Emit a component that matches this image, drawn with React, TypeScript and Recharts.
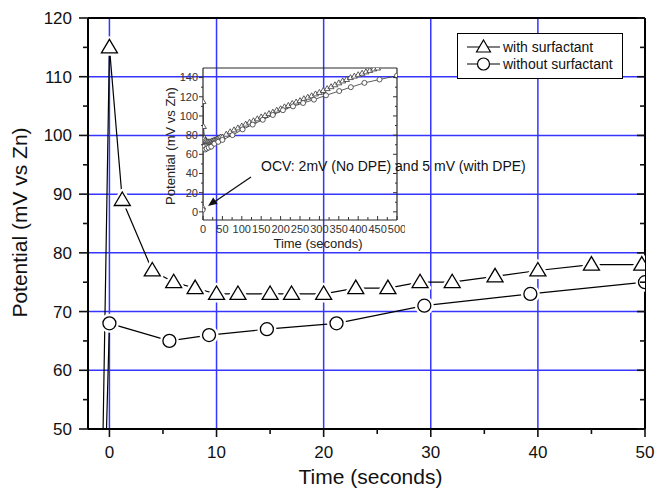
import React from 'react';
import { LineChart, Line, XAxis, YAxis, CartesianGrid, Legend, Label } from 'recharts';

const FONT = '"Liberation Sans", Arial, Helvetica, sans-serif';

// ---- main chart: first 50 s ----
const withTime = [-1, 0, 1.2, 4, 6, 8, 10, 12, 15, 17, 20, 23, 26, 29, 32, 36, 40, 45, 49.7];
const withValue = [5, 115, 89, 77, 75, 74, 73, 73, 73, 73, 73, 74, 74, 75, 75, 76, 77, 78, 78];
const withoutTime = [-1, 0, 5.6, 9.3, 14.7, 21.2, 29.4, 39.3, 50];
const withoutValue = [2, 68, 65, 66, 67, 68, 71, 73, 75];

// ---- inset continuation: 50 - 500 s ----
const withTimeLate = [60, 70, 80, 90, 100, 110, 120, 130, 140, 150, 160, 170, 180, 190, 200, 210, 220, 230, 240, 250, 260, 270, 280, 290, 300, 310, 320, 330, 340, 350, 360, 370, 380, 390, 400, 410, 420, 430, 440, 450];
const withValueLate = [81, 83.5, 85.5, 87.5, 89.5, 91.5, 93.5, 95, 97, 99, 100.5, 102.5, 104, 106, 107.5, 109.5, 111, 113, 114.5, 116, 118, 119.5, 121, 123, 124.5, 126.5, 128.5, 130.5, 132.5, 134.5, 136.5, 138, 140, 141.5, 143, 144.5, 146, 147.5, 149, 150];
const withoutTimeLate = [76, 102, 128, 154, 180, 206, 232, 258, 286, 317, 351, 381, 416, 455, 500];
const withoutValueLate = [80, 86, 91, 96, 101, 106, 110, 113.5, 117, 121.5, 126, 130, 134.5, 138, 142];

// ---- ticks / grid ----
const mainXTicks = [0, 5, 10, 15, 20, 25, 30, 35, 40, 45, 50];
const mainYTicks = [50, 55, 60, 65, 70, 75, 80, 85, 90, 95, 100, 105, 110, 115, 120];
const mainGridX = [0, 10, 20, 30, 40];
const mainGridY = [60, 70, 80, 90, 100, 110];
const insetXTicks = [0, 25, 50, 75, 100, 125, 150, 175, 200, 225, 250, 275, 300, 325, 350, 375, 400, 425, 450, 475, 500];
const insetYTicks = [0, 10, 20, 30, 40, 50, 60, 70, 80, 90, 100, 110, 120, 130, 140];

const seriesNames = ['with surfactant', 'without surfactant'];
const xTitle = 'Time (seconds)';
const yTitle = 'Potential (mV vs Zn)';
const annotationText = 'OCV: 2mV (No DPE) and 5 mV (with DPE)';

const toRows = (ts: number[], vs: number[]) => ts.map((t, i) => ({ t, v: vs[i] }));
const mainWith = toRows(withTime, withValue);
const mainWithout = toRows(withoutTime, withoutValue);
const insetWith = toRows(withTime.concat(withTimeLate), withValue.concat(withValueLate));
const insetWithout = toRows(withoutTime.concat(withoutTimeLate), withoutValue.concat(withoutValueLate));

type Side = 'bottom' | 'top' | 'left' | 'right';
interface TickOpts {
  side: Side; every: number; majorLen: number; minorLen: number; inward: boolean;
  showLabel: boolean; fontSize: number; gap: number; color: string; width: number;
}

const makeTick = (o: TickOpts) => (props: any) => {
  const { x, y, payload } = props;
  const v = Number(payload?.value);
  const r = v / o.every;
  const major = Math.abs(r - Math.round(r)) < 1e-6;
  const len = major ? o.majorLen : o.minorLen;
  const s = o.inward ? -1 : 1;
  let x2 = x;
  let y2 = y;
  if (o.side === 'bottom') y2 = y + s * len;
  if (o.side === 'top') y2 = y - s * len;
  if (o.side === 'left') x2 = x - s * len;
  if (o.side === 'right') x2 = x + s * len;
  let label: any = null;
  if (o.showLabel && major) {
    if (o.side === 'bottom') {
      label = (
        <text x={x} y={y + o.gap} textAnchor="middle" fontSize={o.fontSize} fontFamily={FONT} fill={o.color}>{v}</text>
      );
    } else if (o.side === 'left') {
      label = (
        <text x={x - o.gap} y={y + o.fontSize * 0.35} textAnchor="end" fontSize={o.fontSize} fontFamily={FONT} fill={o.color}>{v}</text>
      );
    }
  }
  return (
    <g>
      <line x1={x} y1={y} x2={x2} y2={y2} stroke={o.color} strokeWidth={o.width} />
      {label}
    </g>
  );
};

const mainBottomTick = makeTick({ side: 'bottom', every: 10, majorLen: 8, minorLen: 5, inward: false, showLabel: true, fontSize: 17, gap: 29, color: '#111', width: 1.6 });
const mainTopTick = makeTick({ side: 'top', every: 10, majorLen: 8, minorLen: 5, inward: true, showLabel: false, fontSize: 17, gap: 0, color: '#111', width: 1.6 });
const mainLeftTick = makeTick({ side: 'left', every: 10, majorLen: 9, minorLen: 5, inward: false, showLabel: true, fontSize: 17, gap: 16, color: '#111', width: 1.6 });
const mainRightTick = makeTick({ side: 'right', every: 10, majorLen: 8, minorLen: 5, inward: true, showLabel: false, fontSize: 17, gap: 0, color: '#111', width: 1.6 });

const insetBottomTick = makeTick({ side: 'bottom', every: 50, majorLen: 4, minorLen: 3, inward: true, showLabel: true, fontSize: 11, gap: 13, color: '#333', width: 1 });
const insetTopTick = makeTick({ side: 'top', every: 50, majorLen: 4, minorLen: 3, inward: true, showLabel: false, fontSize: 11, gap: 0, color: '#333', width: 1 });
const insetLeftTick = makeTick({ side: 'left', every: 20, majorLen: 4, minorLen: 2, inward: false, showLabel: true, fontSize: 11, gap: 5, color: '#333', width: 1 });
const insetRightTick = makeTick({ side: 'right', every: 20, majorLen: 4, minorLen: 2, inward: true, showLabel: false, fontSize: 11, gap: 0, color: '#333', width: 1 });

const triPath = (cx: number, cy: number, h: number, up: number, down: number) =>
  `M${cx},${cy - up} L${cx + h},${cy + down} L${cx - h},${cy + down} Z`;

const makeTriDot = (h: number, up: number, down: number, color: string, sw: number, halo: number) => (props: any) => {
  const { cx, cy, index } = props;
  if (cx == null || cy == null) return <g key={`t${index}`} />;
  const d = triPath(cx, cy, h, up, down);
  return (
    <g key={`t${index}`}>
      {halo > 0 && <path d={d} fill="#fff" stroke="#fff" strokeWidth={halo} strokeLinejoin="round" />}
      <path d={d} fill="#fff" stroke={color} strokeWidth={sw} />
    </g>
  );
};
const makeCircDot = (r: number, color: string, sw: number, halo: number) => (props: any) => {
  const { cx, cy, index } = props;
  if (cx == null || cy == null) return <g key={`c${index}`} />;
  return (
    <g key={`c${index}`}>
      {halo > 0 && <circle cx={cx} cy={cy} r={r} fill="#fff" stroke="#fff" strokeWidth={halo} />}
      <circle cx={cx} cy={cy} r={r} fill="#fff" stroke={color} strokeWidth={sw} />
    </g>
  );
};

const mainTri = makeTriDot(8, 8, 5.5, '#000', 1.3, 6);
const mainCirc = makeCircDot(6.5, '#000', 1.3, 6);
const insetTri = makeTriDot(3, 3, 2, '#333', 0.8, 0);
const insetCirc = makeCircDot(2.5, '#333', 0.8, 0);

const renderLegend = () => (
  <svg width={166} height={46} style={{ display: 'block' }}>
    <rect x={0.5} y={0.5} width={165} height={45} fill="#fff" stroke="#000" strokeWidth={1} />
    <line x1={10} x2={43} y1={14} y2={14} stroke="#000" strokeWidth={1.2} />
    <path d={triPath(26.5, 14, 7, 7, 5)} fill="#fff" stroke="#000" strokeWidth={1.2} />
    <text x={46} y={19} fontSize={14} fontFamily={FONT} fill="#111">{seriesNames[0]}</text>
    <line x1={10} x2={43} y1={31} y2={31} stroke="#000" strokeWidth={1.2} />
    <circle cx={26.5} cy={31} r={6} fill="#fff" stroke="#000" strokeWidth={1.2} />
    <text x={46} y={36} fontSize={14} fontFamily={FONT} fill="#111">{seriesNames[1]}</text>
  </svg>
);

const frame = { stroke: '#000', strokeWidth: 2 };
const insetFrame = { stroke: '#2a2a2a', strokeWidth: 1.2 };

export default function App() {
  return (
    <div style={{ position: 'absolute', left: 0, top: 0, width: 658, height: 488, background: '#fff', fontFamily: FONT }}>
      <div style={{ position: 'absolute', left: 0, top: 0 }}>
        <LineChart width={658} height={488} margin={{ top: 17, right: 12, bottom: 0, left: 0 }}>
          <CartesianGrid stroke="#3535ff" strokeWidth={1.5} verticalValues={mainGridX} horizontalValues={mainGridY} />
          <XAxis type="number" dataKey="t" domain={[-2, 50]} allowDataOverflow ticks={mainXTicks} interval={0}
            height={59} tickSize={0} tickMargin={0} tickLine={false} axisLine={frame} tick={mainBottomTick}>
            <Label content={(p: any) => {
              const vb = p.viewBox || { x: 88, y: 429, width: 557 };
              return (
                <text x={vb.x + vb.width / 2 + 4} y={vb.y + 55} textAnchor="middle" fontSize={21} fontFamily={FONT} fill="#111">{xTitle}</text>
              );
            }} />
          </XAxis>
          <XAxis xAxisId="top" orientation="top" type="number" domain={[-2, 50]} allowDataOverflow ticks={mainXTicks} interval={0}
            height={1} tickSize={0} tickMargin={0} tickLine={false} axisLine={frame} tick={mainTopTick} />
          <YAxis type="number" domain={[50, 120]} allowDataOverflow ticks={mainYTicks} interval={0}
            width={88} tickSize={0} tickMargin={0} tickLine={false} axisLine={frame} tick={mainLeftTick}>
            <Label content={(p: any) => {
              const vb = p.viewBox || { x: 0, y: 18, width: 88, height: 411 };
              const cx = vb.x + 27;
              const cy = vb.y + vb.height / 2 - 1;
              return (
                <text x={cx} y={cy} transform={`rotate(-90, ${cx}, ${cy})`} textAnchor="middle" fontSize={21} fontFamily={FONT} fill="#111">{yTitle}</text>
              );
            }} />
          </YAxis>
          <YAxis yAxisId="right" orientation="right" type="number" domain={[50, 120]} allowDataOverflow ticks={mainYTicks} interval={0}
            width={1} tickSize={0} tickMargin={0} tickLine={false} axisLine={frame} tick={mainRightTick} />
          <Line data={mainWith} dataKey="v" name={seriesNames[0]} type="linear" stroke="#000" strokeWidth={1.2}
            dot={mainTri} activeDot={false} isAnimationActive={false} />
          <Line data={mainWithout} dataKey="v" name={seriesNames[1]} type="linear" stroke="#000" strokeWidth={1.2}
            dot={mainCirc} activeDot={false} isAnimationActive={false} />
          <Legend layout="vertical" align="center" verticalAlign="middle" content={renderLegend}
            wrapperStyle={{ left: 457, top: 33, width: 166, height: 46 }} />
        </LineChart>
      </div>

      <div style={{ position: 'absolute', left: 155, top: 59 }}>
        <LineChart width={250} height={196} margin={{ top: 8, right: 7, bottom: 0, left: 0 }}>
          <XAxis type="number" dataKey="t" domain={[0, 500]} allowDataOverflow ticks={insetXTicks} interval={0}
            height={35} tickSize={0} tickMargin={0} tickLine={false} axisLine={insetFrame} tick={insetBottomTick}>
            <Label content={(p: any) => {
              const vb = p.viewBox || { x: 48, y: 161, width: 194 };
              return (
                <text x={vb.x + vb.width / 2 + 18} y={vb.y + 27.5} textAnchor="middle" fontSize={13} fontFamily={FONT} fill="#222">{xTitle}</text>
              );
            }} />
          </XAxis>
          <XAxis xAxisId="top" orientation="top" type="number" domain={[0, 500]} allowDataOverflow ticks={insetXTicks} interval={0}
            height={1} tickSize={0} tickMargin={0} tickLine={false} axisLine={insetFrame} tick={insetTopTick} />
          <YAxis type="number" domain={[-8.5, 150]} allowDataOverflow ticks={insetYTicks} interval={0}
            width={48} tickSize={0} tickMargin={0} tickLine={false} axisLine={insetFrame} tick={insetLeftTick}>
            <Label content={(p: any) => {
              const vb = p.viewBox || { x: 0, y: 9, width: 48, height: 152 };
              const cx = vb.x + 19.5;
              const cy = vb.y + vb.height / 2 + 2;
              return (
                <text x={cx} y={cy} transform={`rotate(-90, ${cx}, ${cy})`} textAnchor="middle" fontSize={13} fontFamily={FONT} fill="#222">{yTitle}</text>
              );
            }} />
          </YAxis>
          <YAxis yAxisId="right" orientation="right" type="number" domain={[-8.5, 150]} allowDataOverflow ticks={insetYTicks} interval={0}
            width={1} tickSize={0} tickMargin={0} tickLine={false} axisLine={insetFrame} tick={insetRightTick} />
          <Line data={insetWith} dataKey="v" name={seriesNames[0]} type="linear" stroke="#333" strokeWidth={0.8}
            dot={insetTri} activeDot={false} isAnimationActive={false} />
          <Line data={insetWithout} dataKey="v" name={seriesNames[1]} type="linear" stroke="#333" strokeWidth={0.8}
            dot={insetCirc} activeDot={false} isAnimationActive={false} />
        </LineChart>
      </div>

      <svg width={658} height={488} style={{ position: 'absolute', left: 0, top: 0, pointerEvents: 'none' }}>
        <text x={261} y={171} fontSize={14} fontFamily={FONT} fill="#111">{annotationText}</text>
        <line x1={251} y1={177} x2={215} y2={201.5} stroke="#111" strokeWidth={1.3} />
        <path d="M208,206 L213.2,197.4 L217.6,203.8 Z" fill="#111" />
      </svg>
    </div>
  );
}
